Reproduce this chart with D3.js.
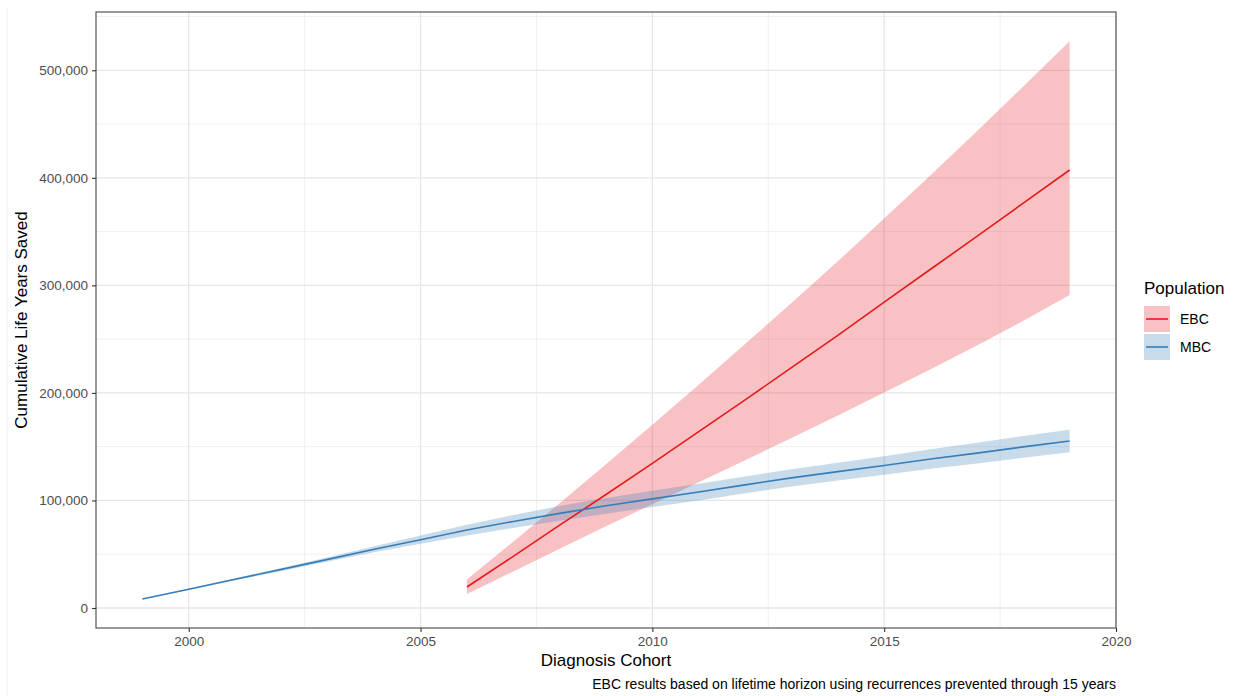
<!DOCTYPE html>
<html>
<head>
<meta charset="utf-8">
<script src="https://cdn.jsdelivr.net/npm/d3@7"></script>
<style>
  body { margin: 0; background: #fff; }
  text { font-family: "Liberation Sans", Arial, Helvetica, sans-serif; }
</style>
</head>
<body>
<svg id="chart"></svg>
<script>
// MBC series (metastatic), yearly cohorts
const mbcYears = [1999, 2000, 2001, 2002, 2003, 2004, 2005, 2006, 2007, 2008, 2009, 2010, 2011, 2012, 2013, 2014, 2015, 2016, 2017, 2018, 2019];
const mbcMid  = [8400, 17400, 26700, 35900, 45200, 54600, 63500, 72500, 80500, 88000, 95000, 101500, 107800, 114500, 121000, 126800, 132500, 138500, 144000, 149800, 155300];
const mbcLow  = [8100, 16800, 25700, 34500, 43200, 51800, 59700, 67500, 74500, 81200, 87700, 93900, 100000, 106700, 113000, 118600, 124000, 129500, 134400, 139700, 144800];
const mbcHigh = [8700, 18000, 27700, 37300, 47200, 57400, 67300, 77500, 86500, 94800, 102300, 109100, 115600, 122300, 129000, 135000, 141000, 147500, 153600, 159900, 165800];

// EBC series (early), yearly cohorts
const ebcYears = [2006, 2007, 2008, 2009, 2010, 2011, 2012, 2013, 2014, 2015, 2016, 2017, 2018, 2019];
const ebcMid  = [19500, 48000, 77000, 105500, 134500, 164000, 193500, 223500, 253500, 284500, 315000, 345500, 376500, 407300];
const ebcLow  = [13000, 34000, 55000, 76000, 96500, 117000, 137500, 158000, 179000, 200500, 222000, 244000, 267000, 291000];
const ebcHigh = [26500, 61700, 97400, 133600, 170400, 207600, 245400, 283600, 322400, 362200, 402500, 443300, 485000, 527000];

const xTicks = [2000, 2005, 2010, 2015, 2020];
const xMinor = [2002.5, 2007.5, 2012.5, 2017.5];
const yTicks = [0, 100000, 200000, 300000, 400000, 500000];
const yMinor = [50000, 150000, 250000, 350000, 450000, 550000];

const legendLabels = ['EBC', 'MBC'];

const w = 1238;
const h = 696;
const panel = { left: 96, top: 12, right: 1116, bottom: 628 };

const lineColor = { EBC: '#e41a1c', MBC: '#377eb8' };
const fillColor = { EBC: '#e8323c', MBC: '#377eb8' };

const svg = d3.select('#chart')
    .attr('width', w)
    .attr('height', h);

// faint page edge on the left
svg.append('line')
    .attr('x1', 7).attr('x2', 7).attr('y1', 8).attr('y2', 696)
    .attr('stroke', '#f0f0f0').attr('stroke-width', 1);

const x = d3.scaleLinear().domain([1998, 2020]).range([panel.left, panel.right]);
const y = d3.scaleLinear().domain([-18600, 554200]).range([panel.bottom, panel.top]);

const g = svg.append('g');

// grid - minor first
g.selectAll('.xminor').data(xMinor).enter().append('line')
    .attr('x1', d => x(d)).attr('x2', d => x(d))
    .attr('y1', panel.top).attr('y2', panel.bottom)
    .attr('stroke', '#f0f0f0').attr('stroke-width', 1);
g.selectAll('.yminor').data(yMinor).enter().append('line')
    .attr('x1', panel.left).attr('x2', panel.right)
    .attr('y1', d => y(d)).attr('y2', d => y(d))
    .attr('stroke', '#f0f0f0').attr('stroke-width', 1);
g.selectAll('.xmajor').data(xTicks).enter().append('line')
    .attr('x1', d => x(d)).attr('x2', d => x(d))
    .attr('y1', panel.top).attr('y2', panel.bottom)
    .attr('stroke', '#e6e6e6').attr('stroke-width', 1.3);
g.selectAll('.ymajor').data(yTicks).enter().append('line')
    .attr('x1', panel.left).attr('x2', panel.right)
    .attr('y1', d => y(d)).attr('y2', d => y(d))
    .attr('stroke', '#e6e6e6').attr('stroke-width', 1.3);

const ebc = ebcYears.map((yr, i) => ({ yr, mid: ebcMid[i], lo: ebcLow[i], hi: ebcHigh[i] }));
const mbc = mbcYears.map((yr, i) => ({ yr, mid: mbcMid[i], lo: mbcLow[i], hi: mbcHigh[i] }));

const area = d3.area().x(d => x(d.yr)).y0(d => y(d.lo)).y1(d => y(d.hi));
const line = d3.line().x(d => x(d.yr)).y(d => y(d.mid));

// ribbons
g.append('path').datum(ebc).attr('d', area)
    .attr('fill', fillColor.EBC).attr('fill-opacity', 0.3);
g.append('path').datum(mbc).attr('d', area)
    .attr('fill', fillColor.MBC).attr('fill-opacity', 0.28);

// lines
g.append('path').datum(ebc).attr('d', line)
    .attr('fill', 'none').attr('stroke', lineColor.EBC).attr('stroke-width', 1.6);
g.append('path').datum(mbc).attr('d', line)
    .attr('fill', 'none').attr('stroke', lineColor.MBC).attr('stroke-width', 1.6);

// panel border
g.append('rect')
    .attr('x', panel.left).attr('y', panel.top)
    .attr('width', panel.right - panel.left).attr('height', panel.bottom - panel.top)
    .attr('fill', 'none').attr('stroke', '#555').attr('stroke-width', 1.2);

// axes
const xAxis = d3.axisBottom(x).tickValues(xTicks).tickFormat(d3.format('d')).tickSize(4).tickPadding(4);
const yAxis = d3.axisLeft(y).tickValues(yTicks).tickFormat(d3.format(',')).tickSize(4).tickPadding(4);

const gx = svg.append('g').attr('transform', `translate(0,${panel.bottom})`).call(xAxis);
const gy = svg.append('g').attr('transform', `translate(${panel.left},0)`).call(yAxis);
[gx, gy].forEach(a => {
    a.select('.domain').remove();
    a.selectAll('.tick line').attr('stroke', '#333').attr('stroke-width', 1.1);
    a.selectAll('.tick text')
        .attr('fill', '#4d4d4d')
        .style('font-size', '13.5px')
        .style('font-family', '"Liberation Sans", Arial, sans-serif');
});

// titles
svg.append('text')
    .attr('x', (panel.left + panel.right) / 2).attr('y', 666)
    .attr('text-anchor', 'middle')
    .style('font-size', '17px').attr('fill', '#000')
    .text('Diagnosis Cohort');

svg.append('text')
    .attr('transform', `translate(27,${(panel.top + panel.bottom) / 2}) rotate(-90)`)
    .attr('text-anchor', 'middle')
    .style('font-size', '17px').attr('fill', '#000')
    .text('Cumulative Life Years Saved');

svg.append('text')
    .attr('x', panel.right).attr('y', 689)
    .attr('text-anchor', 'end')
    .style('font-size', '14px').attr('fill', '#000')
    .text('EBC results based on lifetime horizon using recurrences prevented through 15 years');

// legend
const lg = svg.append('g').attr('transform', 'translate(1144,0)');
lg.append('text')
    .attr('x', 0).attr('y', 294)
    .style('font-size', '17px').attr('fill', '#000')
    .text('Population');

const keys = lg.selectAll('.key').data(legendLabels).enter().append('g')
    .attr('transform', (d, i) => `translate(0,${306 + i * 28})`);
keys.append('rect')
    .attr('width', 26).attr('height', 26)
    .attr('fill', '#fff');
keys.append('rect')
    .attr('width', 26).attr('height', 26)
    .attr('fill', d => fillColor[d]).attr('fill-opacity', d => d === 'EBC' ? 0.3 : 0.28);
keys.append('line')
    .attr('x1', 2).attr('x2', 24).attr('y1', 13).attr('y2', 13)
    .attr('stroke', d => lineColor[d]).attr('stroke-width', 1.6);
keys.append('text')
    .attr('x', 36).attr('y', 18)
    .style('font-size', '14px').attr('fill', '#000')
    .text(d => d);
</script>
</body>
</html>
